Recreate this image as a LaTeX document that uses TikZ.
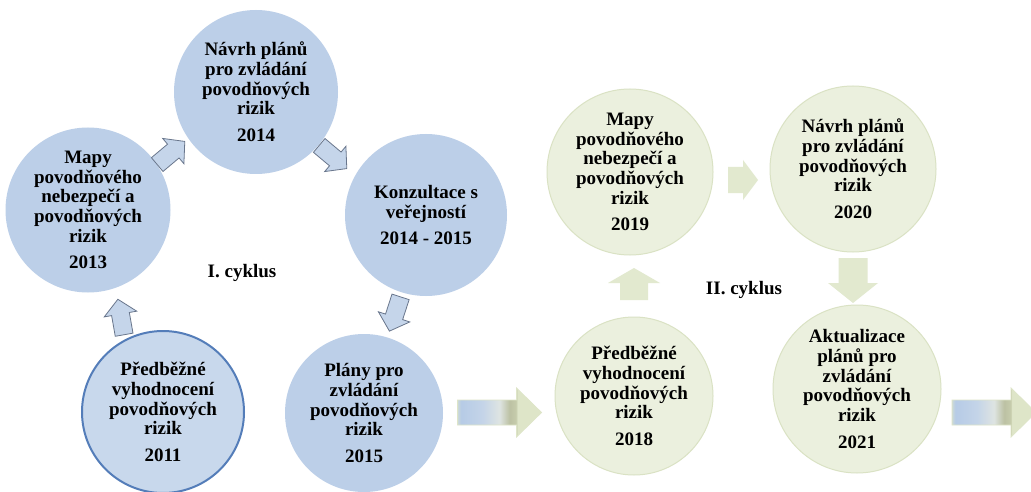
\documentclass[tikz,border=0pt]{standalone}
\usepackage{fontspec}
\setmainfont{Liberation Serif}
\usetikzlibrary{calc}
\definecolor{lblue}{RGB}{188,207,232}
\definecolor{lbluefirst}{RGB}{200,216,236}
\definecolor{bborder}{RGB}{84,125,185}
\definecolor{lgreen}{RGB}{235,240,222}
\definecolor{gborder}{RGB}{218,226,196}
\definecolor{sarrfill}{RGB}{197,213,234}
\definecolor{sarrdraw}{RGB}{105,118,140}
\definecolor{garrfill}{RGB}{226,233,207}
\definecolor{shZ}{RGB}{205,218,215}
\definecolor{shA}{RGB}{182,203,230}
\definecolor{shB}{RGB}{196,212,232}
\definecolor{shC}{RGB}{222,228,226}
\definecolor{shD}{RGB}{188,193,163}
\definecolor{shE}{RGB}{198,204,172}
\definecolor{shF}{RGB}{222,229,200}
\pgfdeclarehorizontalshading{bigarr}{100bp}{color(0bp)=(shZ); color(25bp)=(shZ); color(27bp)=(shA); color(40bp)=(shB); color(50bp)=(shC); color(56bp)=(shD); color(60bp)=(shE); color(60.6bp)=(shF); color(75bp)=(shF); color(100bp)=(shF)}
\tikzset{
  pics/barrow/.style n args={4}{code={
    \path[pic actions] ({-#1/2},{-#2/2}) -- ({#1/2-#4},{-#2/2}) -- ({#1/2-#4},{-#3/2})
      -- ({#1/2},0) -- ({#1/2-#4},{#3/2}) -- ({#1/2-#4},{#2/2}) -- ({-#1/2},{#2/2}) -- cycle;
  }},
  ball/.style={circle, inner sep=0pt, align=center, text=black},
  blueball/.style={ball, fill=lblue},
  firstball/.style={ball, fill=lbluefirst, draw=bborder, line width=2pt},
  greenball/.style={ball, fill=lgreen, draw=gborder, line width=1pt},
  smallblue/.style={fill=sarrfill, draw=sarrdraw, line width=0.8pt, line join=miter},
  smallgreen/.style={fill=garrfill},
  bigarrow/.style={shading=bigarr, draw=shF, line width=0.8pt},
  cyclabel/.style={text=black}
}
\begin{document}
\begin{tikzpicture}[x=1pt,y=-1pt, font=\fontsize{19}{19.7}\selectfont\bfseries]
\clip (0,0) rectangle (1031,492);
\fill[white] (0,0) rectangle (1031,492);

% ---------- I. cyklus ----------
\node[firstball, minimum size=162pt] (c2011) at (163,412)
  {Předběžné\\vyhodnocení\\povodňových\\rizik\\[7pt]2011};
\node[blueball, minimum size=165pt] (c2013) at (88,210)
  {Mapy\\povodňového\\nebezpečí a\\povodňových\\rizik\\[7pt]2013};
\node[blueball, minimum size=164pt] (c2014) at (256,92)
  {Návrh plánů\\pro zvládání\\povodňových\\rizik\\[7pt]2014};
\node[blueball, minimum size=162pt] (c2014b) at (426,215)
  {Konzultace s\\veřejností\\[7pt]2014 - 2015};
\node[blueball, minimum size=158pt] (c2015) at (364,413)
  {Plány pro\\zvládání\\povodňových\\rizik\\[7pt]2015};
\node[cyclabel] (cyc1) at (242,273) {I. cyklus};

\pic[smallblue, rotate=100] at (121,317) {barrow={36}{18}{33}{15}};
\pic[smallblue, rotate=40] at (171,153) {barrow={36}{18}{33}{15}};
\pic[smallblue, rotate=-40] at (333,157) {barrow={36}{18}{33}{15}};
\pic[smallblue, rotate=-108] at (395,314) {barrow={36}{18}{33}{15}};

% ---------- transition ----------
\pic[bigarrow] at (499.5,412.5) {barrow={84}{25}{49}{25}};

% ---------- II. cyklus ----------
\node[greenball, minimum size=158pt] (c2018) at (634,396)
  {Předběžné\\vyhodnocení\\povodňových\\rizik\\[7pt]2018};
\node[greenball, minimum size=166pt] (c2019) at (630,172)
  {Mapy\\povodňového\\nebezpečí a\\povodňových\\rizik\\[7pt]2019};
\node[greenball, minimum size=166pt] (c2020) at (853,169)
  {Návrh plánů\\pro zvládání\\povodňových\\rizik\\[7pt]2020};
\node[greenball, minimum size=168pt] (c2021) at (857,389)
  {Aktualizace\\plánů pro\\zvládání\\povodňových\\rizik\\[7pt]2021};
\node[cyclabel] (cyc2) at (744,290) {II. cyklus};

\pic[smallgreen, rotate=90] at (634,284) {barrow={32}{28}{52}{15}};
\pic[smallgreen] at (743,180) {barrow={30}{26}{40}{15}};
\pic[smallgreen, rotate=-90] at (853,280.5) {barrow={45}{29}{50}{20}};

\pic[bigarrow] at (994,412.5) {barrow={84}{25}{49}{25}};
\end{tikzpicture}
\end{document}
